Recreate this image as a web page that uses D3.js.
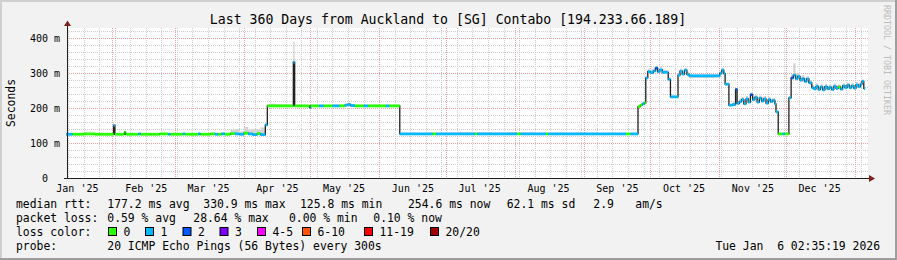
<!DOCTYPE html>
<html>
<head>
<meta charset="utf-8">
<script src="https://cdn.jsdelivr.net/npm/d3@7/dist/d3.min.js"></script>
<style>
html, body { margin: 0; padding: 0; background: #f2f2f2; }
svg { display: block; font-family: "DejaVu Sans Mono", monospace; }
text { white-space: pre; }
</style>
</head>
<body>
<script>

// ---- data ----
// days after the start of the 360 day window (Jan 11 2025 02:35)
var dayOffset = [
  0, 3, 8, 13, 18, 21.4, 22, 26.3, 26.8, 30, 32.6, 33.6, 38, 42, 46, 47, 52.6, 53.6, 59.5, 60.5,
  65, 67, 68.5, 70, 71.5, 74, 76, 78, 80, 82, 84, 86, 87.5, 89.7,
  90.6, 95, 99, 102.3, 102.9, 106, 109.6, 110.1, 114, 116, 120, 123, 125.5, 126.8, 128, 130,
  134, 136, 140, 144, 145.5,
  150.2, 155, 160, 165, 166.5, 172, 178, 184, 185, 192, 198, 203, 204.5, 210, 216, 217, 225,
  233, 240, 246, 252, 254,
  257.4, 258.4, 259.3, 260.3, 260.9, 261.8, 263, 264.3, 265.3, 266.2, 267.2, 268.3, 270, 271,
  272, 275.4, 276.3, 277.3, 278.3, 279.4, 280.4, 284, 288, 292, 294.2, 295.1, 296, 296.6,
  298.3, 300, 301.3, 302, 303, 304, 305, 306, 307, 308, 309, 310, 311, 312, 313, 314, 315,
  316, 317, 318, 319, 319.5,
  320.5, 322.5, 323.5, 325.3, 326.3, 327.3, 328.3, 329.3, 330.3, 331.3, 332.3, 333.3, 334.3,
  335.6, 336.5, 337.5, 338.5, 339.5, 340.5, 341.5, 342.5, 343.5, 344.5, 345.5, 346.5, 347.5,
  348.5, 349.5, 350.5, 351.5, 352.5, 353.5, 354.5, 355.5, 356.5, 357.5, 358.2, 359
];
// median rtt in ms
var medianMs = [
  125, 125, 126, 125, 125, 150, 125, 131, 125, 125, 126, 125, 125, 126, 125, 125, 126, 125, 126, 125,
  126, 125, 125, 126, 125, 127, 126, 125, 128, 126, 124, 127, 124, 152,
  206, 206, 206, 331, 206, 206, 201, 206, 206, 206, 206, 206, 208, 210, 207, 206,
  206, 206, 206, 206, 206,
  126, 126, 126, 126, 126, 126, 126, 126, 126, 126, 126, 126, 126, 126, 126, 126, 126,
  126, 126, 126, 126, 126,
  204, 208, 212, 215, 286, 304, 301, 306, 314, 304, 309, 302, 302, 282,
  232, 294, 305, 297, 308, 296, 292, 292, 292, 292, 299, 308, 298, 268,
  208, 210, 253, 213, 218, 224, 212, 226, 217, 238, 224, 230, 217, 228, 220, 226, 214,
  224, 218, 222, 212, 189,
  126, 126, 126, 229, 286, 294, 284, 290, 280, 284, 276, 283, 272,
  258, 255, 262, 253, 260, 252, 261, 255, 259, 253, 262, 256, 260,
  254, 263, 258, 265, 258, 263, 257, 266, 261, 268, 276, 256
];
// lost pings out of 20 (as index into the loss colour list)
var lossIndex = [
  1, 0, 0, 0, 0, 1, 0, 0, 0, 0, 1, 0, 0, 0, 1, 0, 1, 0, 1, 0,
  0, 1, 0, 1, 0, 0, 1, 1, 0, 1, 1, 0, 1, 1,
  0, 0, 0, 1, 0, 0, 1, 0, 1, 0, 1, 0, 1, 1, 1, 0,
  1, 0, 0, 1, 0,
  1, 1, 1, 0, 1, 1, 1, 0, 1, 1, 1, 0, 1, 1, 0, 1, 1,
  1, 1, 1, 0, 1,
  0, 0, 1, 0, 1, 1, 1, 1, 2, 1, 1, 1, 1, 1,
  1, 1, 1, 1, 1, 1, 1, 1, 1, 1, 1, 1, 1, 1,
  1, 1, 2, 1, 1, 1, 1, 1, 1, 2, 1, 1, 1, 1, 1, 1, 1,
  1, 1, 1, 1, 1,
  0, 1, 0, 1, 2, 1, 1, 1, 1, 1, 1, 1, 1,
  1, 1, 1, 1, 1, 1, 1, 1, 1, 1, 1, 1, 0,
  1, 1, 1, 1, 1, 1, 1, 1, 1, 1, 1, 1
];
// spread of the pings above / below the median (ms)
var smokeUp = [
  1, 1, 1, 1, 2, 4, 1, 1, 2, 1, 2, 1, 2, 1, 2, 1, 2, 2, 3, 2,
  3, 4, 3, 5, 4, 10, 14, 8, 18, 12, 16, 10, 20, 2,
  6, 5, 4, 58, 4, 3, 2, 3, 3, 3, 4, 4, 4, 3, 4, 3,
  3, 4, 3, 3, 4,
  2, 2, 2, 3, 3, 4, 5, 4, 5, 4, 5, 4, 4, 3, 3, 3, 3,
  2, 2, 2, 2, 2,
  2, 2, 2, 3, 6, 8, 8, 10, 6, 10, 8, 8, 6, 6,
  2, 6, 8, 8, 6, 8, 3, 3, 3, 3, 6, 6, 6, 4,
  4, 6, 4, 8, 10, 8, 10, 8, 10, 6, 8, 8, 8, 8, 10, 8, 8,
  8, 8, 6, 6, 2,
  2, 2, 2, 4, 10, 34, 14, 10, 10, 10, 8, 8, 8,
  8, 8, 8, 8, 8, 8, 8, 8, 8, 8, 8, 8, 8,
  8, 8, 8, 8, 8, 8, 8, 8, 8, 8, 6, 4
];
var smokeDown = [
  1, 1, 1, 1, 1, 0, 1, 0, 1, 1, 1, 1, 1, 1, 1, 1, 1, 1, 1, 1,
  1, 1, 1, 1, 1, 1, 2, 1, 1, 2, 2, 1, 2, 1,
  1, 1, 1, 0, 1, 1, 0, 1, 1, 1, 1, 1, 1, 1, 1, 1,
  1, 1, 1, 1, 1,
  1, 1, 1, 1, 1, 1, 1, 1, 1, 1, 1, 1, 1, 1, 1, 1, 1,
  1, 1, 1, 1, 1,
  1, 1, 1, 1, 2, 3, 3, 3, 3, 3, 3, 3, 3, 3,
  1, 3, 3, 3, 3, 3, 6, 6, 6, 5, 4, 3, 3, 3,
  2, 2, 3, 3, 4, 4, 3, 4, 3, 4, 4, 4, 3, 4, 4, 4, 3,
  4, 3, 4, 3, 2,
  1, 1, 1, 2, 4, 6, 6, 6, 5, 5, 5, 5, 5,
  4, 4, 4, 4, 4, 4, 4, 4, 4, 4, 4, 4, 4,
  4, 4, 4, 4, 4, 4, 4, 4, 4, 4, 4, 3
];

var lossColors = ["#26ff00", "#00b8ff", "#0059ff", "#7e00ff", "#ff00fe", "#ff5500", "#ff0000", "#a10000"];
var lossLabels = ["0", "1", "2", "3", "4-5", "6-10", "11-19", "20/20"];
var yTicks = [0, 100, 200, 300, 400];

var medianStats = ["177.2 ms avg", "330.9 ms max", "125.8 ms min", "254.6 ms now", "62.1 ms sd", "2.9", "am/s"];
var lossStats = ["0.59 % avg", "28.64 % max", "0.00 % min", "0.10 % now"];

// ---- layout ----
var svgWidth = 897, svgHeight = 260;
var plot = {left: 67, right: 868, top: 28, bottom: 178};
var endTime = new Date(Date.UTC(2026, 0, 6, 2, 35, 19));
var startTime = new Date(endTime.getTime() - 360 * 864e5);
function dayToDate(d){ return new Date(startTime.getTime() + d * 864e5); }

var svg = d3.select("body").append("svg")
    .attr("width", svgWidth)
    .attr("height", svgHeight);

svg.append("rect").attr("width", svgWidth).attr("height", svgHeight).attr("fill", "#f2f2f2");
// 3d frame like rrdtool
svg.append("rect").attr("x", 0).attr("y", 0).attr("width", svgWidth).attr("height", 2).attr("fill", "#cfcfcf");
svg.append("rect").attr("x", 0).attr("y", 0).attr("width", 2).attr("height", svgHeight).attr("fill", "#cfcfcf");
svg.append("rect").attr("x", svgWidth - 2).attr("y", 0).attr("width", 2).attr("height", svgHeight).attr("fill", "#9e9e9e");
svg.append("rect").attr("x", 0).attr("y", svgHeight - 2).attr("width", svgWidth).attr("height", 2).attr("fill", "#9e9e9e");

var x = d3.scaleUtc()
    .domain([startTime, endTime])
    .range([66, 866]);
var y = d3.scaleLinear()
    .domain([0, 428.6])
    .range([plot.bottom, plot.top]);

svg.append("rect")
    .attr("x", plot.left).attr("y", plot.top)
    .attr("width", plot.right - plot.left).attr("height", plot.bottom - plot.top)
    .attr("fill", "#ffffff");

// grid
var grid = svg.append("g").attr("shape-rendering", "crispEdges");
var minorY = d3.range(20, 428, 20).filter(function(v){ return v % 100 != 0; });
grid.selectAll(".hminor").data(minorY).enter().append("line")
    .attr("x1", plot.left).attr("x2", plot.right)
    .attr("y1", function(d){ return Math.round(y(d)) + 0.5; })
    .attr("y2", function(d){ return Math.round(y(d)) + 0.5; })
    .attr("stroke", "#cdcdcd").attr("stroke-dasharray", "1,1");

var weeks = d3.utcSunday.range(startTime, endTime);
grid.selectAll(".vminor").data(weeks).enter().append("line")
    .attr("x1", function(d){ return Math.round(x(d)) + 0.5; })
    .attr("x2", function(d){ return Math.round(x(d)) + 0.5; })
    .attr("y1", plot.top).attr("y2", plot.bottom)
    .attr("stroke", "#cdcdcd").attr("stroke-dasharray", "1,1");

grid.selectAll(".hmajor").data(yTicks.slice(1)).enter().append("line")
    .attr("x1", plot.left).attr("x2", plot.right)
    .attr("y1", function(d){ return Math.round(y(d)) + 0.5; })
    .attr("y2", function(d){ return Math.round(y(d)) + 0.5; })
    .attr("stroke", "#eaa2a2").attr("stroke-dasharray", "1,1");

var months = d3.utcMonth.range(startTime, endTime);
grid.selectAll(".vmajor").data(months).enter().append("line")
    .attr("x1", function(d){ return Math.round(x(d)) + 0.5; })
    .attr("x2", function(d){ return Math.round(x(d)) + 0.5; })
    .attr("y1", plot.top).attr("y2", plot.bottom)
    .attr("stroke", "#eaa2a2").attr("stroke-dasharray", "1,1");

// data points
var points = dayOffset.map(function(d, i){
  return {t: dayToDate(d), m: medianMs[i], loss: lossIndex[i], up: smokeUp[i], dn: smokeDown[i]};
});
var lastDay = dayOffset[dayOffset.length - 1] + 0.6;
var stepPoints = points.concat([{t: dayToDate(lastDay), m: medianMs[medianMs.length - 1],
  up: smokeUp[smokeUp.length - 1], dn: smokeDown[smokeDown.length - 1]}]);

// smoke
svg.append("path")
    .datum(stepPoints)
    .attr("fill", "#d4d4d4")
    .attr("d", d3.area().curve(d3.curveStepAfter)
      .x(function(d){ return x(d.t); })
      .y0(function(d){ return y(d.m - d.dn); })
      .y1(function(d){ return y(d.m + d.up); }));

// median line
svg.append("path")
    .datum(stepPoints)
    .attr("fill", "none")
    .attr("stroke", "#202020")
    .attr("stroke-width", 1.3)
    .attr("d", d3.line().curve(d3.curveStepAfter)
      .x(function(d){ return x(d.t); })
      .y(function(d){ return y(d.m); }));

// loss coloured median band
svg.selectAll(".band").data(points).enter().append("rect")
    .attr("x", function(d){ return x(d.t); })
    .attr("width", function(d, i){ return Math.max(x(stepPoints[i + 1].t) - x(d.t), 1); })
    .attr("y", function(d){ return y(d.m) - 1.4; })
    .attr("height", 2.8)
    .attr("fill", function(d){ return lossColors[d.loss]; });

// axes
svg.append("line")
    .attr("x1", 67.5).attr("x2", 67.5).attr("y1", 24).attr("y2", 178.5)
    .attr("stroke", "#1f1f1f");
svg.append("line")
    .attr("x1", 64).attr("x2", 870).attr("y1", 178.5).attr("y2", 178.5)
    .attr("stroke", "#1f1f1f");
svg.append("path").attr("d", "M64,26L71,26L67.5,20.5Z").attr("fill", "#801f1f");
svg.append("path").attr("d", "M869,175L869,182L875,178.5Z").attr("fill", "#801f1f");

var yAxis = svg.append("g")
    .attr("transform", "translate(67,0)")
    .call(d3.axisLeft(y).tickValues(yTicks).tickSize(0).tickPadding(7)
      .tickFormat(function(d){ return d == 0 ? "0\u00a0\u00a0" : d + " m"; }));
yAxis.select(".domain").remove();
yAxis.selectAll("text").attr("font-family", "DejaVu Sans Mono").attr("font-size", "10px").attr("fill", "#000");

var labelDays = d3.utcMonth.range(d3.utcMonth.floor(startTime), endTime)
    .map(function(d){ return d3.utcDay.offset(d, 15); })
    .filter(function(d){ return d < endTime; });
var xAxis = svg.append("g")
    .attr("transform", "translate(0,178)")
    .call(d3.axisBottom(x).tickValues(labelDays).tickSize(0).tickPadding(6.5)
      .tickFormat(d3.utcFormat("%b '%y")));
xAxis.select(".domain").remove();
xAxis.selectAll("text").attr("font-family", "DejaVu Sans Mono").attr("font-size", "10px").attr("fill", "#000");

// titles
svg.append("text")
    .attr("x", 448).attr("y", 23.5)
    .attr("text-anchor", "middle")
    .attr("font-size", "13.2px")
    .text("Last 360 Days from Auckland to [SG] Contabo [194.233.66.189]");

svg.append("text")
    .attr("transform", "translate(14.5,103) rotate(-90)")
    .attr("text-anchor", "middle")
    .attr("font-size", "11.4px")
    .text("Seconds");

svg.append("text")
    .attr("transform", "translate(884,5) rotate(90)")
    .attr("font-size", "8.3px")
    .attr("fill", "#bcbcbc")
    .text("RRDTOOL / TOBI OETIKER");

// legend
var legend = svg.append("g").attr("font-size", "11.4px");
var rowY = [207.7, 221.7, 235.7, 249.7];
legend.append("text").attr("x", 16).attr("y", rowY[0]).text("median rtt:");
var medianX = [107.3, 203.3, 300, 408, 506.7, 593.3, 635.3];
legend.selectAll(".ms").data(medianStats).enter().append("text")
    .attr("x", function(d, i){ return medianX[i]; })
    .attr("y", rowY[0])
    .text(function(d){ return d; });

legend.append("text").attr("x", 16).attr("y", rowY[1]).text("packet loss:");
var lossX = [107.3, 193.3, 289, 373.3];
legend.selectAll(".ls").data(lossStats).enter().append("text")
    .attr("x", function(d, i){ return lossX[i]; })
    .attr("y", rowY[1])
    .text(function(d){ return d; });

legend.append("text").attr("x", 16).attr("y", rowY[2]).text("loss color:");
var boxX = [108.5, 145.5, 183, 220, 257.5, 302.5, 364.5, 430.5];
legend.selectAll(".box").data(lossColors).enter().append("rect")
    .attr("x", function(d, i){ return boxX[i]; })
    .attr("y", 227.5)
    .attr("width", 8).attr("height", 8)
    .attr("fill", function(d){ return d; })
    .attr("stroke", "#000").attr("stroke-width", 1);
legend.selectAll(".boxlabel").data(lossLabels).enter().append("text")
    .attr("x", function(d, i){ return boxX[i] + 15; })
    .attr("y", rowY[2])
    .text(function(d){ return d; });

legend.append("text").attr("x", 16).attr("y", rowY[3]).text("probe:");
legend.append("text").attr("x", 107.3).attr("y", rowY[3]).text("20 ICMP Echo Pings (56 Bytes) every 300s");
legend.append("text").attr("x", 880).attr("y", rowY[3]).attr("text-anchor", "end")
    .text("Tue Jan  6 02:35:19 2026");

</script>
</body>
</html>
